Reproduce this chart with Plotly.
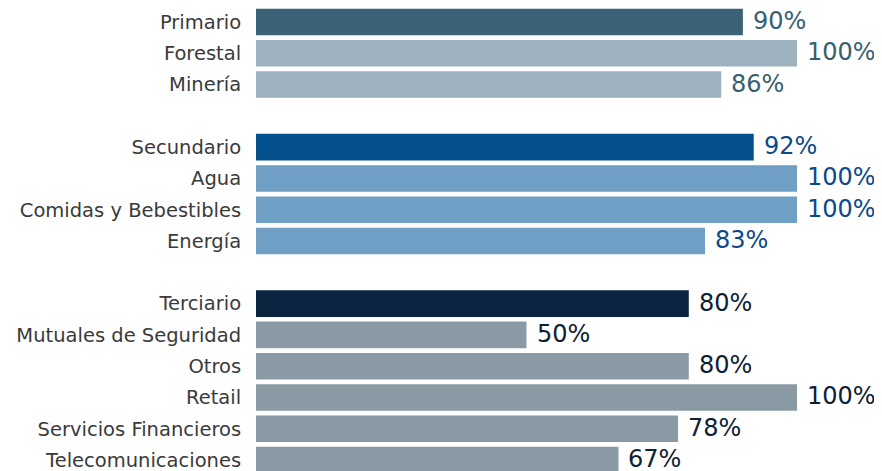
import plotly.graph_objects as go

categories = ["Primario", "Forestal", "Minería", "",
              "Secundario", "Agua", "Comidas y Bebestibles", "Energía", " ",
              "Terciario", "Mutuales de Seguridad", "Otros", "Retail",
              "Servicios Financieros", "Telecomunicaciones"]
values = [90, 100, 86, None, 92, 100, 100, 83, None, 80, 50, 80, 100, 78, 67]
bar_colors = ["#3a6377", "#9db2be", "#9db2be", "#ffffff",
              "#04508c", "#6f9fc5", "#6f9fc5", "#6f9fc5", "#ffffff",
              "#0b2540", "#8a9aa4", "#8a9aa4", "#8a9aa4", "#8a9aa4", "#8a9aa4"]
text_colors = ["#36606f", "#36606f", "#36606f", "#ffffff",
               "#0b4a88", "#0b4a88", "#0b4a88", "#0b4a88", "#ffffff",
               "#0d2134", "#0d2134", "#0d2134", "#0d2134", "#0d2134", "#0d2134"]

positions = list(range(len(categories)))
bar_x = [v if v is not None else 0 for v in values]

fig = go.Figure(go.Bar(
    x=bar_x, y=positions, orientation="h",
    marker=dict(color=bar_colors, line=dict(width=0)),
    width=0.85, hoverinfo="skip",
))

for p, v, c in zip(positions, values, text_colors):
    if v is None:
        continue
    fig.add_annotation(x=v, y=p, text=f"{v}%", showarrow=False,
                       xanchor="left", yanchor="middle", xshift=8, yshift=1,
                       font=dict(family="DejaVu Sans, sans-serif", size=24, color=c))

fig.update_layout(
    width=882, height=471,
    margin=dict(l=248, r=93, t=0, b=0),
    paper_bgcolor="white", plot_bgcolor="white",
    showlegend=False,
    xaxis=dict(range=[0, 100], visible=False, fixedrange=True),
    yaxis=dict(range=[14.605, -0.447], tickmode="array", tickvals=positions,
               ticktext=categories, ticks="outside", ticklen=10, tickcolor="rgba(0,0,0,0)",
               showgrid=False, zeroline=False, showline=False, ticklabeloverflow="allow",
               tickfont=dict(family="DejaVu Sans, sans-serif", size=19.5, color="#3a3a3a")),
)

fig.write_html("out.html")
